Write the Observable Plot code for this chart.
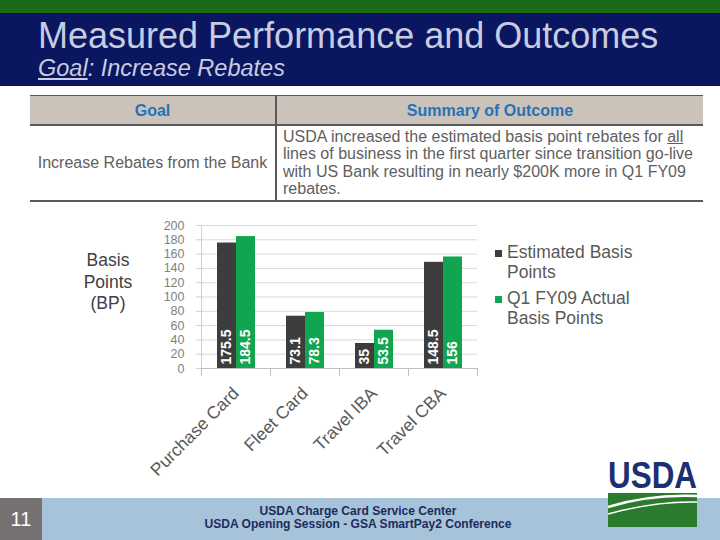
<!DOCTYPE html>
<html><head><meta charset="utf-8">
<script src="https://cdn.jsdelivr.net/npm/d3@7"></script>
<script src="https://cdn.jsdelivr.net/npm/@observablehq/plot@0.6"></script>
<style>
body{margin:0;background:#fff;}
#slide{position:relative;width:720px;height:540px;overflow:hidden;font-family:"Liberation Sans",Arial,sans-serif;background:#fff;}
.abs{position:absolute;}
.title{left:38px;top:18px;font-size:36px;line-height:36px;color:#c7cce0;white-space:nowrap;}
.subtitle{left:38px;top:57px;font-size:23.5px;line-height:23.5px;color:#c7cce0;font-style:italic;white-space:nowrap;}
.th{font-size:16px;line-height:18px;font-weight:bold;color:#2672b8;text-align:center;}
.td{color:#606060;white-space:nowrap;}
#legend div{position:absolute;font-size:17.5px;line-height:20px;color:#595959;white-space:nowrap;}
#legend span{position:absolute;width:7px;height:7px;}
</style></head><body>
<div id="slide">
  <div class="abs" style="left:0;top:0;width:720px;height:13px;background:#1a6a1a"></div>
  <div class="abs" style="left:0;top:13px;width:720px;height:73px;background:#0b1660"></div>
  <div class="abs title">Measured Performance and Outcomes</div>
  <div class="abs subtitle"><u>Goal</u>: Increase Rebates</div>

  <div class="abs" style="left:30px;top:95px;width:673px;height:1px;background:#9b3b3b"></div>
  <div class="abs" style="left:30px;top:96px;width:673px;height:28px;background:#cbc3ba"></div>
  <div class="abs" style="left:30px;top:124px;width:673px;height:2px;background:#595959"></div>
  <div class="abs" style="left:30px;top:200px;width:673px;height:2px;background:#595959"></div>
  <div class="abs" style="left:275px;top:96px;width:2px;height:105px;background:#595959"></div>
  <div id="th1" class="abs th" style="left:30px;top:101.5px;width:245px"></div>
  <div id="th2" class="abs th" style="left:277px;top:101.5px;width:426px"></div>
  <div id="td1" class="abs td" style="left:30px;top:153.5px;width:245px;text-align:center;font-size:16px;line-height:18px"></div>
  <div id="td2" class="abs td" style="left:283px;top:127.5px;font-size:16px;line-height:17.5px"></div>

  <div class="abs" style="left:60px;top:250px;width:96px;text-align:center;font-size:17.5px;line-height:21.5px;color:#404040">Basis<br>Points<br>(BP)</div>

  <div id="chart" class="abs" style="left:130px;top:210px"></div>
  <div id="legend" class="abs" style="left:0;top:0"></div>

  <div class="abs" style="left:0;top:498px;width:720px;height:42px;background:#a6c3d9"></div>
  <div class="abs" style="left:0;top:498px;width:42px;height:42px;background:#757171;color:#fff;font-size:20px;line-height:42px;text-align:center">11</div>
  <svg class="abs" style="left:0;top:0" width="720" height="540">
    <g font-family="'Liberation Sans Narrow','Arial Narrow',sans-serif" font-weight="bold" fill="#1d2c5e" font-size="12.5" text-anchor="middle">
      <text id="f1" x="358" y="515" textLength="197" lengthAdjust="spacingAndGlyphs"></text>
      <text id="f2" x="358" y="528" textLength="307" lengthAdjust="spacingAndGlyphs"></text>
    </g>
    <text x="608" y="488" textLength="89" lengthAdjust="spacingAndGlyphs" font-family="'Liberation Sans Narrow','Arial Narrow',sans-serif" font-weight="bold" font-size="36" fill="#1b2f73">USDA</text>
    <rect x="608" y="493" width="89" height="34" fill="#2b7b2d"/>
    <path d="M608,507 Q650,494 697,496" fill="none" stroke="#fff" stroke-width="2.5"/>
    <path d="M608,514 Q655,501 697,502" fill="none" stroke="#fff" stroke-width="1.5"/>
  </svg>
</div>
<script>
const categories = ["Purchase Card", "Fleet Card", "Travel IBA", "Travel CBA"];
const seriesNames = ["Estimated Basis Points", "Q1 FY09 Actual Basis Points"];
const estimated = [175.5, 73.1, 35, 148.5];
const actual = [184.5, 78.3, 53.5, 156];
const yTicks = [0, 20, 40, 60, 80, 100, 120, 140, 160, 180, 200];
const seriesColors = ["#3d3d3d", "#12a54f"];
const legendLines = [["Estimated Basis", "Points"], ["Q1 FY09 Actual", "Basis Points"]];
const tableHeaders = ["Goal", "Summary of Outcome"];
const tableGoal = "Increase Rebates from the Bank";
const tableOutcome = ["USDA increased the estimated basis point rebates for <u>all</u>",
  "lines of business in the first quarter since transition go-live",
  "with US Bank resulting in nearly $200K more in Q1 FY09",
  "rebates."];
const footerLines = ["USDA Charge Card Service Center", "USDA Opening Session - GSA SmartPay2 Conference"];

document.getElementById("th1").textContent = tableHeaders[0];
document.getElementById("th2").textContent = tableHeaders[1];
document.getElementById("td1").textContent = tableGoal;
document.getElementById("td2").innerHTML = tableOutcome.join("<br>");
document.getElementById("f1").textContent = footerLines[0];
document.getElementById("f2").textContent = footerLines[1];

const data = categories.flatMap((c, i) => [
  {category: c, series: seriesNames[0], value: estimated[i]},
  {category: c, series: seriesNames[1], value: actual[i]}
]);

const chart = Plot.plot({
  width: 360, height: 275,
  marginLeft: 70, marginRight: 12, marginTop: 15, marginBottom: 117,
  style: {fontFamily: "'Liberation Sans', Arial, sans-serif", overflow: "visible", background: "transparent"},
  fx: {domain: categories, padding: 0, label: null},
  x: {domain: seriesNames, paddingInner: 0, paddingOuter: 0.78, axis: null},
  y: {domain: [0, 200], label: null},
  color: {domain: seriesNames, range: seriesColors},
  marks: [
    Plot.ruleY(yTicks.slice(1), {stroke: "#d9d9d9", strokeOpacity: 1}),
    Plot.frame({anchor: "left", facetAnchor: "left", stroke: "#d0d0d0", strokeOpacity: 1}),
    Plot.frame({anchor: "left", insetTop: 143, insetBottom: -7, stroke: "#bfbfbf", strokeOpacity: 1}),
    Plot.frame({anchor: "right", facetAnchor: "right", insetTop: 143, insetBottom: -7, stroke: "#bfbfbf", strokeOpacity: 1}),
    Plot.ruleY([0], {stroke: "#bfbfbf"}),
    Plot.barY(data, {fx: "category", x: "series", y: "value", fill: "series"}),
    Plot.text(data, {fx: "category", x: "series", y: 0, text: d => String(d.value), rotate: -90,
      textAnchor: "start", dy: -4, fill: "white", fontWeight: "bold", fontSize: 14}),
    Plot.axisY({ticks: yTicks, tickSize: 5, tickPadding: 12, stroke: "#d0d0d0", fill: "#808080",
      fontSize: 12.5, label: null, tickFormat: d => String(d)}),
    Plot.axisFx({anchor: "bottom", tickRotate: -45, tickSize: 0, tickPadding: 22, fontSize: 17.5,
      fill: "#595959", label: null})
  ]
});
document.getElementById("chart").appendChild(chart);

const legend = document.getElementById("legend");
const legendTops = [242, 288];
legendLines.forEach((lines, i) => {
  const sq = document.createElement("span");
  sq.style.left = "495px"; sq.style.top = (legendTops[i] + 8) + "px"; sq.style.background = seriesColors[i];
  legend.appendChild(sq);
  const t = document.createElement("div");
  t.style.left = "507px"; t.style.top = legendTops[i] + "px";
  t.innerHTML = lines.join("<br>");
  legend.appendChild(t);
});
</script>
</body></html>
